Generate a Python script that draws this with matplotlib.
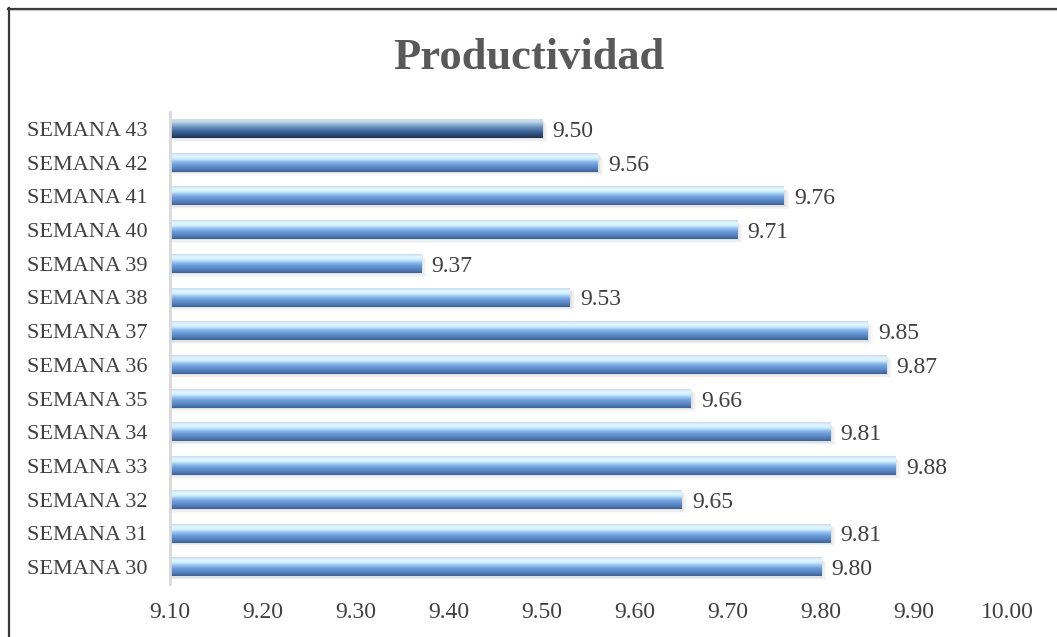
import numpy as np
import matplotlib
matplotlib.use("Agg")
import matplotlib.pyplot as plt
from matplotlib.colors import LinearSegmentedColormap
from matplotlib.lines import Line2D
from matplotlib.patches import Rectangle

weeks = [f"SEMANA {n}" for n in range(30, 44)]
productivity = [9.80, 9.81, 9.65, 9.88, 9.81, 9.66, 9.87, 9.85, 9.53, 9.37, 9.71, 9.76, 9.56, 9.50]
x_ticks = [9.10, 9.20, 9.30, 9.40, 9.50, 9.60, 9.70, 9.80, 9.90, 10.00]
x_min, x_max = 9.10, 10.00

plt.rcParams["font.family"] = ["Liberation Serif", "DejaVu Serif"]

# glossy bar shading, listed from the top edge of a bar down to its bottom edge
blue_shade = LinearSegmentedColormap.from_list(
    "blue_shade",
    [(0.00, "#c6dcf3"), (0.15, "#e4f8ff"), (0.30, "#cdeefc"),
     (0.45, "#8fbdec"), (0.60, "#6e9ddc"), (0.80, "#5883c0"),
     (1.00, "#3d6394")])
navy_shade = LinearSegmentedColormap.from_list(
    "navy_shade",
    [(0.00, "#cfe0ea"), (0.15, "#bcd5e5"), (0.40, "#6f95c2"),
     (0.65, "#3f6597"), (1.00, "#1d3455")])
gradient = np.linspace(0, 1, 64).reshape(-1, 1)

fig = plt.figure(figsize=(10.57, 6.37), dpi=100)
ax = fig.add_axes([0.1608, 0.0832, 0.7919, 0.741])

bar_h = 0.54
y_pos = np.arange(len(weeks))
for i, (y, val) in enumerate(zip(y_pos, productivity)):
    # soft drop shadow under each bar
    for k, a in enumerate([0.12, 0.08, 0.04]):
        ax.add_patch(Rectangle((x_min, y - bar_h / 2 - 0.04 - 0.04 * k),
                               val - x_min + 0.002 * (k + 1), bar_h,
                               facecolor="#7f7f7f", edgecolor="none",
                               alpha=a, zorder=1))
    cmap = navy_shade if i == len(weeks) - 1 else blue_shade
    ax.imshow(gradient, cmap=cmap, aspect="auto", interpolation="bilinear",
              extent=[x_min, val, y - bar_h / 2, y + bar_h / 2],
              origin="upper", zorder=2)
    ax.annotate(f"{val:.2f}", xy=(val, y), xytext=(7.5, 0),
                textcoords="offset points", ha="left", va="center_baseline",
                fontsize=17, color="#404040")

ax.set_xlim(x_min, x_max)
ax.set_ylim(-0.5, len(weeks) - 0.5)
ax.set_yticks(y_pos)
ax.set_yticklabels(weeks, fontsize=16, color="#404040", va="center_baseline")
ax.set_xticks(x_ticks)
ax.set_xticklabels([f"{t:.2f}" for t in x_ticks], fontsize=17, color="#404040")
ax.tick_params(axis="both", length=0)
ax.tick_params(axis="x", pad=13)
ax.tick_params(axis="y", pad=16)
for side in ["top", "right", "bottom"]:
    ax.spines[side].set_visible(False)
ax.spines["left"].set_color("#d9d9d9")
ax.spines["left"].set_linewidth(2)

fig.text(0.5, 0.892, "Productividad", ha="center", va="baseline",
         fontsize=32, fontweight="bold", color="#595959")

# chart frame, only the top and left edges show
fig.add_artist(Line2D([8 / 1057, 1], [1 - 8.5 / 637, 1 - 8.5 / 637],
                      color="#3a3a3a", linewidth=1.6))
fig.add_artist(Line2D([8 / 1057, 1], [1 - 10 / 637, 1 - 10 / 637],
                      color="#c8c8c8", linewidth=0.8))
fig.add_artist(Line2D([8.5 / 1057, 8.5 / 1057], [0, 1 - 8 / 637],
                      color="#3a3a3a", linewidth=1.6))

fig.savefig("out.png", dpi=100)
